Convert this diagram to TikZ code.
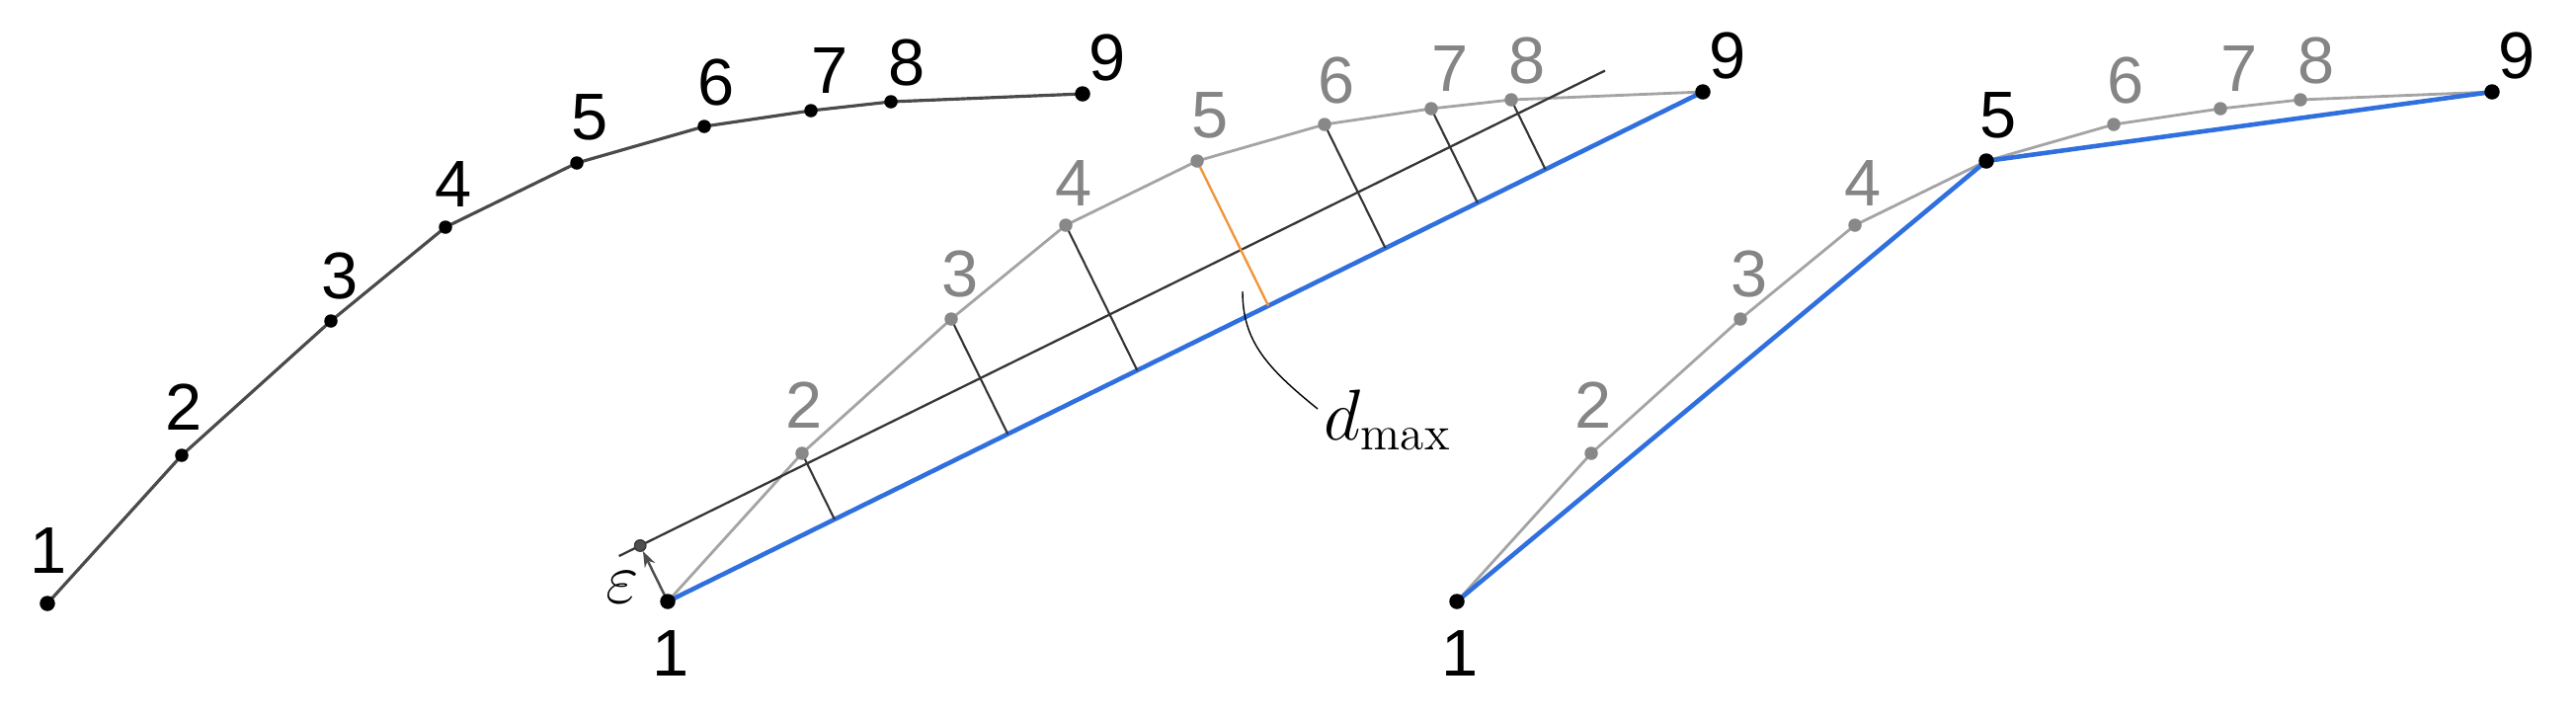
\documentclass[tikz,border=0pt]{standalone}
\usepackage{fontspec}
\newfontfamily\labfont{Liberation Sans}
\usetikzlibrary{calc,arrows.meta}
\definecolor{curvegray}{HTML}{4A4A4A}
\definecolor{lightline}{HTML}{A4A4A4}
\definecolor{dotgray}{HTML}{888888}
\definecolor{labgray}{HTML}{858585}
\definecolor{blueline}{HTML}{2F6FDE}
\definecolor{orangeline}{HTML}{F0963C}
\definecolor{darkline}{HTML}{353535}
\definecolor{epsgray}{HTML}{4E4E4E}
\begin{document}
\begin{tikzpicture}[x=0.01cm,y=-0.01cm,
  blackcurve/.style={curvegray, line width=0.9pt, line join=round},
  graycurve/.style={lightline, line width=0.8pt, line join=round},
  bluel/.style={blueline, line width=1.3pt, line cap=round, line join=round},
  parline/.style={darkline, line width=0.65pt},
  perpline/.style={darkline, line width=0.6pt},
  dmaxline/.style={orangeline, line width=0.68pt},
  leader/.style={black, line width=0.4pt},
  bigdot/.style={circle, fill=black, inner sep=0pt, minimum size=0.155cm},
  smalldot/.style={circle, fill=black, inner sep=0pt, minimum size=0.135cm},
  greydot/.style={circle, fill=dotgray, inner sep=0pt, minimum size=0.135cm},
  epsdot/.style={circle, fill=epsgray, draw=darkline, line width=0.3pt, inner sep=0pt, minimum size=0.115cm},
  epsarrow/.style={epsgray, line width=0.7pt, -{Stealth[length=0.16cm, width=0.115cm]}},
  numlabel/.style={font=\labfont\fontsize{19}{23}\selectfont, inner sep=0pt},
  greylabel/.style={numlabel, text=labgray},
  mathlabel/.style={font=\fontsize{20}{24}\selectfont, inner sep=0pt},
]
\useasboundingbox (0,0) rectangle (2608,726);

% points of the three panels
\foreach \i/\x/\y in {1/48/611, 2/184/461, 3/335/325, 4/451/230, 5/584/165,
                      6/713/128, 7/821/112, 8/902/103, 9/1096/95} {
  \coordinate (a\i) at (\x,\y);
  \coordinate (b\i) at (\x+628,\y-2);
  \coordinate (c\i) at (\x+1427,\y-2);
}

% ---------------- panel 1 ----------------
\draw[blackcurve] (a1) -- (a2) -- (a3) -- (a4) -- (a5) -- (a6) -- (a7) -- (a8) -- (a9);
\foreach \i in {2,...,8} \node[smalldot] (da\i) at (a\i) {};
\node[bigdot] (da1) at (a1) {};
\node[bigdot] (da9) at (a9) {};
\node[numlabel] (la1) at ($(a1)+(1,-54)$) {1};
\foreach \i/\dx/\dy in {2/2/-49, 3/9/-46, 4/8/-43, 5/13/-46, 6/12/-45, 7/19/-40, 8/16/-40, 9/25/-37}
  \node[numlabel] (la\i) at ($(a\i)+(\dx,\dy)$) {\i};

% ---------------- panel 2 ----------------
\draw[graycurve] (b1) -- (b2) -- (b3) -- (b4) -- (b5) -- (b6) -- (b7) -- (b8) -- (b9);
\draw[bluel] (b1) -- (b9);
\node[epsdot] (eps) at ($(b1)!0.63cm!90:(b9)$) {};
\coordinate (epsEnd) at ($(eps)+(b9)-(b1)$);
\coordinate (parS) at ($(eps)!-0.0205!(epsEnd)$);
\coordinate (parE) at ($(eps)!0.932!(epsEnd)$);
\draw[parline] (parS) -- (parE);
\foreach \i in {2,3,4,6,7,8}
  \draw[perpline] (b\i) -- ($(b1)!(b\i)!(b9)$);
\coordinate (foot5) at ($(b1)!(b5)!(b9)$);
\draw[dmaxline] (b5) -- (foot5);
\draw[epsarrow] (b1) -- (eps);
\node[epsdot] at (eps) {};
\coordinate (ldS) at (1258,295);
\coordinate (ldE) at (1334,414);
\draw[leader] (ldS) .. controls (1258,345) and (1282,372) .. (ldE);
\node[mathlabel, anchor=base west] (dmax) at (1340,445) {$d_{\max}$};
\node[mathlabel] (epslab) at (630,595) {$\varepsilon$};
\foreach \i in {2,...,8} \node[greydot] (db\i) at (b\i) {};
\node[bigdot] (db1) at (b1) {};
\node[bigdot] (db9) at (b9) {};
\node[numlabel] (lb1) at ($(b1)+(3,52)$) {1};
\foreach \i/\dx/\dy in {2/2/-49, 3/9/-46, 4/8/-43, 5/13/-46, 6/12/-45, 7/19/-40, 8/16/-40}
  \node[greylabel] (lb\i) at ($(b\i)+(\dx,\dy)$) {\i};
\node[numlabel] (lb9) at ($(b9)+(25,-37)$) {9};

% ---------------- panel 3 ----------------
\draw[graycurve] (c1) -- (c2) -- (c3) -- (c4) -- (c5) -- (c6) -- (c7) -- (c8) -- (c9);
\draw[bluel] (c1) -- (c5) -- (c9);
\foreach \i in {2,3,4,6,7,8} \node[greydot] (dc\i) at (c\i) {};
\node[bigdot] (dc1) at (c1) {};
\node[bigdot] (dc5) at (c5) {};
\node[bigdot] (dc9) at (c9) {};
\node[numlabel] (lc1) at ($(c1)+(3,52)$) {1};
\foreach \i/\dx/\dy in {2/2/-49, 3/9/-46, 4/8/-43, 6/12/-45, 7/19/-40, 8/16/-40}
  \node[greylabel] (lc\i) at ($(c\i)+(\dx,\dy)$) {\i};
\node[numlabel] (lc5) at ($(c5)+(12,-46)$) {5};
\node[numlabel] (lc9) at ($(c9)+(25,-37)$) {9};
\end{tikzpicture}
\end{document}
